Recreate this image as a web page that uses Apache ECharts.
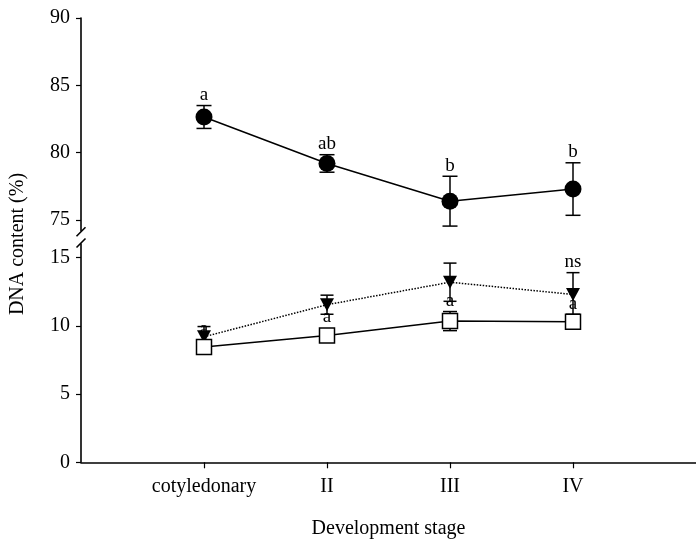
<!DOCTYPE html>
<html>
<head>
<meta charset="utf-8">
<script src="https://cdn.jsdelivr.net/npm/echarts@6/dist/echarts.min.js"></script>
<style>
html, body { margin: 0; padding: 0; background: #fff; }
#c { width: 696px; height: 542px; }
</style>
</head>
<body>
<div id="c"></div>
<script>
// Development stages along the x axis
const stages = ['cotyledonary', 'II', 'III', 'IV'];

// Upper panel: filled circles (mean ± error)
const circleMean = [82.65, 79.2, 76.4, 77.3];
const circleErr = [0.85, 0.65, 1.85, 1.95];
const circleLetters = ['a', 'ab', 'b', 'b'];

// Lower panel: filled down-triangles, dotted line
const triMean = [9.2, 11.55, 13.2, 12.3];
const triErr = [0.75, 0.7, 1.4, 1.6];
const triLetters = ['', '', '', 'ns'];

// Lower panel: open squares, solid line
const sqMean = [8.45, 9.3, 10.35, 10.3];
const sqErr = [0.3, 0.2, 0.7, 0.55];
const sqLetters = ['a', 'a', 'a', 'a'];

// Y tick labels for the two parts of the broken axis
const upperTicks = [75, 80, 85, 90];
const lowerTicks = [0, 5, 10, 15];

const FONT = '"Liberation Serif", "Times New Roman", serif';
const stageX = stages.map((s, i) => i + 1);

function pts(means, errs) {
  return means.map((v, i) => [stageX[i], v, errs[i]]);
}

function errorBars(capHalf) {
  return function (params, api) {
    const x = api.value(0), v = api.value(1), e = api.value(2);
    const hi = api.coord([x, v + e]);
    const lo = api.coord([x, v - e]);
    const st = { stroke: '#000', lineWidth: 1.5 };
    return {
      type: 'group',
      children: [
        { type: 'line', shape: { x1: hi[0], y1: hi[1], x2: lo[0], y2: lo[1] }, style: st },
        { type: 'line', shape: { x1: hi[0] - capHalf, y1: hi[1], x2: hi[0] + capHalf, y2: hi[1] }, style: st },
        { type: 'line', shape: { x1: lo[0] - capHalf, y1: lo[1], x2: lo[0] + capHalf, y2: lo[1] }, style: st }
      ]
    };
  };
}

function letterLabels(letters, markerHalf) {
  return function (params, api) {
    const x = api.value(0), v = api.value(1), e = api.value(2);
    const hi = api.coord([x, v + e]);
    const c = api.coord([x, v]);
    const top = Math.min(hi[1], c[1] - markerHalf);
    return {
      type: 'text',
      x: c[0],
      y: top - 1,
      style: {
        text: letters[params.dataIndex],
        font: '19px ' + FONT,
        fill: '#000',
        align: 'center',
        verticalAlign: 'bottom'
      }
    };
  };
}

const chart = echarts.init(document.getElementById('c'), null, { renderer: 'canvas' });

const xCommon = {
  type: 'value', min: 0, max: 5, splitLine: { show: false }
};

const option = {
  backgroundColor: '#fff',
  animation: false,
  grid: [
    { left: 81, top: 18, width: 621, height: 212.8 },
    { left: 81, top: 244, width: 621, height: 218.3 }
  ],
  xAxis: [
    Object.assign({}, xCommon, { gridIndex: 0, show: false }),
    Object.assign({}, xCommon, {
      gridIndex: 1,
      name: 'Development stage',
      nameLocation: 'middle',
      nameGap: 56,
      nameTextStyle: { fontFamily: FONT, fontSize: 20, color: '#000' },
      axisLine: { lineStyle: { color: '#000', width: 1.6 } },
      axisTick: { show: true, length: 6, lineStyle: { color: '#000', width: 1.2 }, customValues: stageX },
      axisLabel: {
        customValues: stageX,
        formatter: v => stages[Math.round(v) - 1] || '',
        margin: 14,
        fontFamily: FONT, fontSize: 20, color: '#000'
      }
    })
  ],
  yAxis: [
    {
      gridIndex: 0, type: 'value', min: 74.2, max: 90,
      splitLine: { show: false },
      axisLine: { show: true, lineStyle: { color: '#000', width: 1.6 } },
      axisTick: { show: true, length: 5, lineStyle: { color: '#000', width: 1.2 }, customValues: upperTicks },
      axisLabel: { customValues: upperTicks, margin: 11, fontFamily: FONT, fontSize: 20, color: '#000' }
    },
    {
      gridIndex: 1, type: 'value', min: 0, max: 16,
      splitLine: { show: false },
      axisLine: { show: true, lineStyle: { color: '#000', width: 1.6 } },
      axisTick: { show: true, length: 5, lineStyle: { color: '#000', width: 1.2 }, customValues: lowerTicks },
      axisLabel: { customValues: lowerTicks, margin: 11, fontFamily: FONT, fontSize: 20, color: '#000' }
    }
  ],
  series: [
    // upper panel
    {
      type: 'custom', xAxisIndex: 0, yAxisIndex: 0, z: 1,
      renderItem: errorBars(7.5), data: pts(circleMean, circleErr), encode: { x: 0, y: 1 }
    },
    {
      type: 'line', xAxisIndex: 0, yAxisIndex: 0, z: 3,
      data: pts(circleMean, circleErr).map(p => [p[0], p[1]]),
      symbol: 'circle', symbolSize: 17,
      itemStyle: { color: '#000' },
      lineStyle: { color: '#000', width: 1.5 }
    },
    {
      type: 'custom', xAxisIndex: 0, yAxisIndex: 0, z: 10,
      renderItem: letterLabels(circleLetters, 8.5), data: pts(circleMean, circleErr), encode: { x: 0, y: 1 }
    },
    // lower panel: triangles
    {
      type: 'custom', xAxisIndex: 1, yAxisIndex: 1, z: 1,
      renderItem: errorBars(6.5), data: pts(triMean, triErr), encode: { x: 0, y: 1 }
    },
    {
      type: 'line', xAxisIndex: 1, yAxisIndex: 1, z: 2,
      data: pts(triMean, triErr).map(p => [p[0], p[1]]),
      symbol: 'triangle', symbolRotate: 180, symbolSize: [14, 13],
      itemStyle: { color: '#000' },
      lineStyle: { color: '#000', width: 1.5, type: 'dotted' }
    },
    // lower panel: squares
    {
      type: 'custom', xAxisIndex: 1, yAxisIndex: 1, z: 3,
      renderItem: errorBars(7), data: pts(sqMean, sqErr), encode: { x: 0, y: 1 }
    },
    {
      type: 'line', xAxisIndex: 1, yAxisIndex: 1, z: 4,
      data: pts(sqMean, sqErr).map(p => [p[0], p[1]]),
      symbol: 'rect', symbolSize: 15,
      itemStyle: { color: '#fff', borderColor: '#000', borderWidth: 1.5 },
      lineStyle: { color: '#000', width: 1.5 }
    },
    {
      type: 'custom', xAxisIndex: 1, yAxisIndex: 1, z: 10,
      renderItem: letterLabels(triLetters, 7), data: pts(triMean, triErr), encode: { x: 0, y: 1 }
    },
    {
      type: 'custom', xAxisIndex: 1, yAxisIndex: 1, z: 10,
      renderItem: letterLabels(sqLetters, 7.5), data: pts(sqMean, sqErr), encode: { x: 0, y: 1 }
    }
  ]
};

chart.setOption(option);

// Axis break marks and the shared y-axis title
const upperEnd = chart.convertToPixel({ xAxisIndex: 0, yAxisIndex: 0 }, [0, 74.2]);
const lowerEnd = chart.convertToPixel({ xAxisIndex: 1, yAxisIndex: 1 }, [0, 16]);
const slash = (p) => ({
  type: 'line',
  shape: { x1: p[0] - 4.5, y1: p[1] + 4.5, x2: p[0] + 4.5, y2: p[1] - 4.5 },
  style: { stroke: '#000', lineWidth: 1.6 }
});
chart.setOption({
  graphic: [
    slash([upperEnd[0], upperEnd[1] + 1]),
    slash([lowerEnd[0], lowerEnd[1] - 1]),
    {
      type: 'text',
      x: 18, y: 244,
      rotation: Math.PI / 2,
      style: {
        text: 'DNA content (%)',
        font: '20px ' + FONT,
        fill: '#000',
        align: 'center',
        verticalAlign: 'middle'
      }
    }
  ]
});
</script>
</body>
</html>
